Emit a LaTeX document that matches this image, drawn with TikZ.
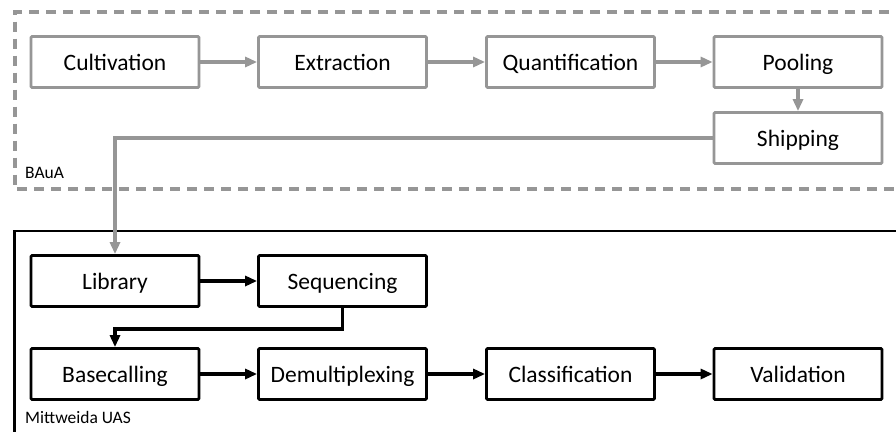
\documentclass[tikz,border=0pt]{standalone}
\usepackage{fontspec}
\setmainfont{Carlito}
\usetikzlibrary{arrows.meta}
\definecolor{flowgray}{RGB}{150,150,150}
\tikzset{
  stage/.style={draw, line width=2.8pt, rounded corners=1.2pt, minimum width=168pt,
    minimum height=51pt, inner sep=0pt, text height=22pt, text depth=4.6pt,
    font=\fontsize{23.5}{27}\selectfont, text=black},
  graystage/.style={stage, draw=flowgray},
  blackstage/.style={stage, draw=black},
  grayflow/.style={draw=flowgray, line width=3.6pt,
    -{Triangle[length=12pt,width=10pt]}},
  blackflow/.style={draw=black, line width=3.6pt,
    -{Triangle[length=12pt,width=10pt]}},
  grouplabel/.style={anchor=base west, inner sep=0pt, font=\fontsize{17.5}{20}\selectfont}
}
\begin{document}
\begin{tikzpicture}[x=1pt, y=-1pt]
\useasboundingbox (0,0) rectangle (896,431);
\clip (0,0) rectangle (896,431);
\fill[white] (0,0) rectangle (896,431);

% institute frames
\draw[flowgray, line width=4pt, dash pattern=on 10pt off 7pt] (940,12) -- (14.5,12) -- (14.5,189) -- (940,189);
\draw[black, line width=2.8pt] (940,231) -- (14.5,231) -- (14.5,460);
\node[grouplabel] (baua) at (25,178) {BAuA};
\node[grouplabel] (mw) at (25,423) {Mittweida UAS};

% sample preparation stages
\node[graystage] (cult) at (115,62) {Cultivation};
\node[graystage] (extr) at (342.5,62) {Extraction};
\node[graystage] (quant) at (570.5,62) {Quantification};
\node[graystage] (pool) at (798,62) {Pooling};
\node[graystage] (ship) at (798,138) {Shipping};

% sequencing and analysis stages
\node[blackstage] (lib) at (115,281) {Library};
\node[blackstage] (seq) at (342.5,281) {Sequencing};
\node[blackstage] (base) at (115,374) {Basecalling};
\node[blackstage] (demux) at (342.5,374) {Demultiplexing};
\node[blackstage] (class) at (570.5,374) {Classification};
\node[blackstage] (valid) at (798,374) {Validation};

% connectors
\draw[grayflow] (cult) -- (extr);
\draw[grayflow] (extr) -- (quant);
\draw[grayflow] (quant) -- (pool);
\draw[grayflow] (pool) -- (ship);
\draw[grayflow] (ship.west) -| (lib.north);

\draw[blackflow] (lib) -- (seq);
\draw[blackflow] (seq.south) -- ++(0,21) -| (base.north);
\draw[blackflow] (base) -- (demux);
\draw[blackflow] (demux) -- (class);
\draw[blackflow] (class) -- (valid);
\end{tikzpicture}
\end{document}
